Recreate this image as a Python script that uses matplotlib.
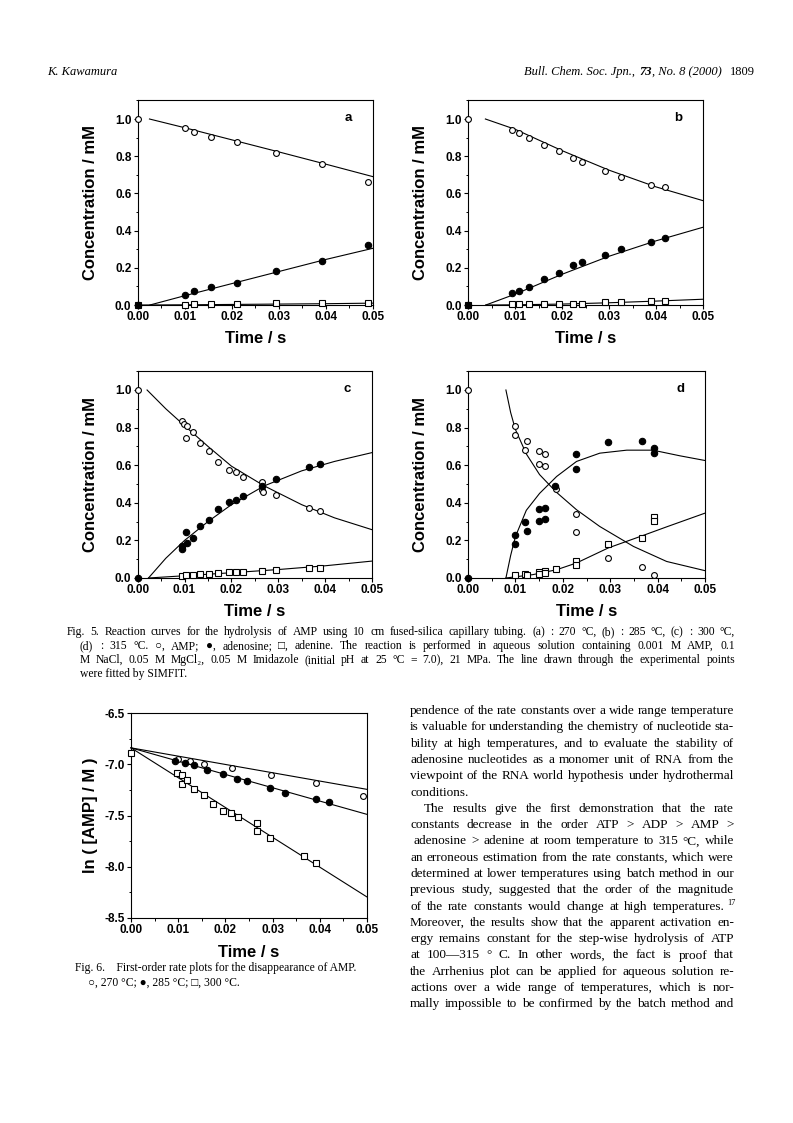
import matplotlib
matplotlib.use("Agg")
import matplotlib.pyplot as plt
from matplotlib.ticker import MultipleLocator, FormatStrFormatter

# ---------------------------------------------------------------- data
# Fig. 5a (270 C)
A_T = [0.0, 0.0100, 0.0120, 0.0155, 0.0211, 0.0294, 0.0391, 0.0489]
A_AMP = [1.0, 0.950, 0.928, 0.901, 0.878, 0.819, 0.756, 0.663]
A_ADO = [0.0, 0.054, 0.073, 0.097, 0.120, 0.181, 0.238, 0.323]
A_ADE = [0.0, 0.0, 0.005, 0.004, 0.004, 0.009, 0.009, 0.013]
A_FIT_AMP_T = [0.0025, 0.01, 0.02, 0.03, 0.04, 0.05]
A_FIT_AMP = [1.0, 0.953, 0.888, 0.823, 0.757, 0.690]
A_FIT_ADO_T = [0.0026, 0.01, 0.02, 0.03, 0.04, 0.05]
A_FIT_ADO = [0.0, 0.050, 0.115, 0.180, 0.245, 0.305]
A_FIT_ADE_T = [0.0, 0.01, 0.02, 0.03, 0.04, 0.05]
A_FIT_ADE = [0.0, 0.001, 0.003, 0.005, 0.007, 0.010]

# Fig. 5b (285 C)
B_T = [0.0, 0.0093, 0.0109, 0.0130, 0.0161, 0.0194, 0.0223, 0.0243, 0.0292, 0.0326, 0.0389, 0.0419]
B_AMP = [1.0, 0.941, 0.923, 0.896, 0.860, 0.828, 0.789, 0.771, 0.722, 0.686, 0.647, 0.633]
B_ADO = [0.0, 0.063, 0.077, 0.099, 0.142, 0.174, 0.215, 0.229, 0.271, 0.299, 0.341, 0.358]
B_ADE = [0.0, 0.004, 0.004, 0.004, 0.005, 0.007, 0.005, 0.007, 0.016, 0.016, 0.020, 0.020]
B_FIT_AMP_T = [0.0037, 0.01, 0.02, 0.03, 0.04, 0.05]
B_FIT_AMP = [1.0, 0.945, 0.830, 0.725, 0.635, 0.561]
B_FIT_ADO_T = [0.0038, 0.01, 0.02, 0.03, 0.04, 0.05]
B_FIT_ADO = [0.0, 0.058, 0.165, 0.262, 0.345, 0.418]
B_FIT_ADE_T = [0.0038, 0.01, 0.02, 0.03, 0.04, 0.05]
B_FIT_ADE = [0.0, 0.001, 0.005, 0.012, 0.021, 0.031]

# Fig. 5c (300 C)
C_AMP_T = [0.0, 0.0094, 0.0099, 0.0104, 0.0106, 0.0117, 0.0133, 0.0153, 0.0172, 0.0195,
           0.0210, 0.0225, 0.0266, 0.0266, 0.0268, 0.0295, 0.0366, 0.0390]
C_AMP = [1.0, 0.837, 0.818, 0.747, 0.809, 0.779, 0.717, 0.676, 0.619, 0.575,
         0.563, 0.536, 0.513, 0.469, 0.457, 0.442, 0.372, 0.354]
C_ADO_T = [0.0, 0.0094, 0.0094, 0.0104, 0.0106, 0.0119, 0.0133, 0.0153, 0.0172, 0.0195,
           0.0210, 0.0225, 0.0266, 0.0295, 0.0366, 0.0390]
C_ADO = [0.0, 0.170, 0.155, 0.244, 0.186, 0.212, 0.274, 0.310, 0.366, 0.404,
         0.416, 0.434, 0.492, 0.527, 0.588, 0.605]
C_ADE_T = [0.0094, 0.0104, 0.0119, 0.0133, 0.0153, 0.0172, 0.0195, 0.0210, 0.0225,
           0.0266, 0.0295, 0.0366, 0.0390]
C_ADE = [0.012, 0.014, 0.018, 0.019, 0.023, 0.027, 0.030, 0.032, 0.034,
         0.039, 0.042, 0.051, 0.055]
C_FIT_AMP_T = [0.002, 0.006, 0.010, 0.015, 0.020, 0.027, 0.035, 0.042, 0.050]
C_FIT_AMP = [1.0, 0.90, 0.81, 0.70, 0.595, 0.49, 0.39, 0.32, 0.257]
C_FIT_ADO_T = [0.0023, 0.006, 0.010, 0.015, 0.020, 0.027, 0.035, 0.042, 0.050]
C_FIT_ADO = [0.0, 0.105, 0.200, 0.300, 0.390, 0.490, 0.570, 0.620, 0.667]
C_FIT_ADE_T = [0.0023, 0.01, 0.02, 0.03, 0.04, 0.05]
C_FIT_ADE = [0.0, 0.012, 0.028, 0.045, 0.065, 0.090]

# Fig. 5d (315 C)
D_AMP_T = [0.0, 0.0100, 0.0100, 0.0120, 0.0125, 0.0149, 0.0149, 0.0163, 0.0163, 0.0185,
           0.0227, 0.0227, 0.0296, 0.0368, 0.0393]
D_AMP = [1.0, 0.809, 0.758, 0.681, 0.731, 0.676, 0.605, 0.658, 0.598, 0.473,
         0.342, 0.244, 0.106, 0.057, 0.018]
D_ADO_T = [0.0, 0.0100, 0.0100, 0.0120, 0.0125, 0.0149, 0.0149, 0.0163, 0.0163, 0.0183,
           0.0227, 0.0227, 0.0296, 0.0368, 0.0393, 0.0393]
D_ADO = [0.0, 0.227, 0.182, 0.297, 0.251, 0.366, 0.301, 0.375, 0.315, 0.490,
         0.658, 0.581, 0.722, 0.729, 0.690, 0.667]
D_ADE_T = [0.0100, 0.0120, 0.0125, 0.0149, 0.0149, 0.0163, 0.0163, 0.0185, 0.0227,
           0.0227, 0.0296, 0.0368, 0.0393, 0.0393]
D_ADE = [0.014, 0.021, 0.014, 0.030, 0.020, 0.037, 0.027, 0.048, 0.092,
         0.071, 0.180, 0.212, 0.324, 0.304]
D_FIT_AMP_T = [0.0080, 0.0090, 0.0100, 0.0123, 0.0151, 0.0187, 0.0229, 0.0278, 0.0349, 0.0419, 0.0500]
D_FIT_AMP = [1.0, 0.88, 0.79, 0.66, 0.55, 0.455, 0.363, 0.274, 0.168, 0.088, 0.039]
D_FIT_ADO_T = [0.0080, 0.0090, 0.0100, 0.0123, 0.0151, 0.0187, 0.0229, 0.0278, 0.0335, 0.0390, 0.0447, 0.0500]
D_FIT_ADO = [0.0, 0.12, 0.22, 0.36, 0.45, 0.54, 0.62, 0.664, 0.680, 0.680, 0.650, 0.625]
D_FIT_ADE_T = [0.0080, 0.0137, 0.0187, 0.0229, 0.0296, 0.0368, 0.0419, 0.0500]
D_FIT_ADE = [0.0, 0.018, 0.044, 0.080, 0.160, 0.225, 0.272, 0.345]

# Fig. 6 : ln([AMP]/M)
F6_270_T = [0.0100, 0.0125, 0.0154, 0.0213, 0.0296, 0.0391, 0.0492]
F6_270 = [-6.952, -6.970, -6.994, -7.033, -7.100, -7.180, -7.313]
F6_285_T = [0.0094, 0.0114, 0.0134, 0.0162, 0.0195, 0.0225, 0.0245, 0.0294, 0.0327, 0.0391, 0.0420]
F6_285 = [-6.968, -6.988, -7.010, -7.055, -7.095, -7.142, -7.166, -7.232, -7.284, -7.340, -7.368]
F6_300_T = [0.0, 0.0097, 0.0107, 0.0107, 0.0118, 0.0134, 0.0154, 0.0174, 0.0195, 0.0211,
            0.0226, 0.0267, 0.0267, 0.0295, 0.0366, 0.0391]
F6_300 = [-6.890, -7.082, -7.108, -7.196, -7.150, -7.245, -7.297, -7.390, -7.459, -7.476,
          -7.515, -7.573, -7.654, -7.716, -7.895, -7.960]
F6_FIT_T = [0.0, 0.05]
F6_FIT_270 = [-6.84, -7.245]
F6_FIT_285 = [-6.84, -7.489]
F6_FIT_300 = [-6.84, -8.295]

# ---------------------------------------------------------------- texts
HEADER_LEFT = "K. Kawamura"
CAPTION5 = [
    "Fig. 5.    Reaction curves for the hydrolysis of AMP using 10 cm fused-silica capillary tubing. (a) : 270 °C, (b) : 285 °C, (c) : 300 °C,",
    "(d) : 315 °C.  ○, AMP; ●, adenosine; □, adenine.  The reaction is performed in aqueous solution containing 0.001 M AMP, 0.1",
    "M NaCl, 0.05 M MgCl₂, 0.05 M Imidazole (initial pH at 25 °C  =  7.0), 21 MPa.  The line drawn through the experimental points",
    "were fitted by SIMFIT.",
]
CAPTION6 = [
    "Fig. 6.    First-order rate plots for the disappearance of AMP.",
    "○, 270 °C; ●, 285 °C; □, 300 °C.",
]
BODY = [
    "pendence of the rate constants over a wide range temperature",
    "is valuable for understanding the chemistry of nucleotide sta-",
    "bility at high temperatures, and to evaluate the stability of",
    "adenosine nucleotides as a monomer unit of RNA from the",
    "viewpoint of the RNA world hypothesis under hydrothermal",
    "conditions.",
    "The results give the first demonstration that the rate",
    "constants decrease in the order ATP > ADP > AMP >",
    "adenosine > adenine at room temperature to 315 °C, while",
    "an erroneous estimation from the rate constants, which were",
    "determined at lower temperatures using batch method in our",
    "previous study, suggested that the order of the magnitude",
    "of the rate constants would change at high temperatures.",
    "Moreover, the results show that the apparent activation en-",
    "ergy remains constant for the step-wise hydrolysis of ATP",
    "at 100—315 ° C.  In other words, the fact is proof that",
    "the Arrhenius plot can be applied for aqueous solution re-",
    "actions over a wide range of temperatures, which is nor-",
    "mally impossible to be confirmed by the batch method and",
]

# ---------------------------------------------------------------- style
W, H = 793, 1123
SERIF = ["Liberation Serif", "DejaVu Serif"]
plt.rcParams["font.family"] = ["Liberation Sans", "DejaVu Sans"]
plt.rcParams["font.weight"] = "bold"
plt.rcParams["axes.unicode_minus"] = False

fig = plt.figure(figsize=(W / 100, H / 100), dpi=100)
fig.patch.set_facecolor("white")
renderer = fig.canvas.get_renderer()


def add_axes_px(left, right, top, bottom):
    return fig.add_axes([left / W, 1 - bottom / H, (right - left) / W, (bottom - top) / H])


def style_axes(ax, xlabel, ylabel, ylab_x, xlab_y):
    for sp in ax.spines.values():
        sp.set_linewidth(0.8)
    ax.tick_params(which="major", direction="out", length=3, width=0.8, labelsize=8.5, pad=1.5)
    ax.tick_params(which="minor", direction="out", length=1.8, width=0.7)
    ax.set_xlim(0, 0.05)
    ax.xaxis.set_major_locator(MultipleLocator(0.01))
    ax.xaxis.set_minor_locator(MultipleLocator(0.005))
    ax.xaxis.set_major_formatter(FormatStrFormatter("%.2f"))
    ax.set_xlabel(xlabel, fontsize=12, fontweight="bold")
    ax.set_ylabel(ylabel, fontsize=12, fontweight="bold")
    ax.yaxis.set_label_coords(ylab_x, 0.5)
    ax.xaxis.set_label_coords(0.5, xlab_y)


def plot_series(ax, t, y, kind):
    if kind == "open":
        kw = dict(marker="o", ms=4.2, mfc="white", mec="black", mew=0.8)
    elif kind == "filled":
        kw = dict(marker="o", ms=4.6, mfc="black", mec="black", mew=0.8)
    else:
        kw = dict(marker="s", ms=4.0, mfc="white", mec="black", mew=0.8)
    ax.plot(t, y, linestyle="none", clip_on=False, zorder=3, **kw)


def plot_fit(ax, t, y):
    ax.plot(t, y, color="black", lw=0.8, clip_on=False, zorder=2)


def conc_panel(ax, letter, data, fits):
    for t, y, kind in data:
        plot_series(ax, t, y, kind)
    for t, y in fits:
        plot_fit(ax, t, y)
    ax.set_ylim(0, 1.1)
    ax.yaxis.set_major_locator(MultipleLocator(0.2))
    ax.yaxis.set_minor_locator(MultipleLocator(0.1))
    ax.yaxis.set_major_formatter(FormatStrFormatter("%.1f"))
    ax.text(0.895, 0.915, letter, transform=ax.transAxes, fontsize=9.5,
            fontweight="bold", ha="center", va="center")


# ---------------------------------------------------------------- Fig. 5
ax_a = add_axes_px(137.7, 373, 100.4, 305)
conc_panel(ax_a, "a",
           [(A_T, A_ADE, "square"), (A_T, A_AMP, "open"), (A_T, A_ADO, "filled")],
           [(A_FIT_AMP_T, A_FIT_AMP), (A_FIT_ADO_T, A_FIT_ADO), (A_FIT_ADE_T, A_FIT_ADE)])
style_axes(ax_a, "Time / s", "Concentration / mM", -0.17, -0.125)

ax_b = add_axes_px(468, 703, 100.4, 305)
conc_panel(ax_b, "b",
           [(B_T, B_ADE, "square"), (B_T, B_AMP, "open"), (B_T, B_ADO, "filled")],
           [(B_FIT_AMP_T, B_FIT_AMP), (B_FIT_ADO_T, B_FIT_ADO), (B_FIT_ADE_T, B_FIT_ADE)])
style_axes(ax_b, "Time / s", "Concentration / mM", -0.17, -0.125)

ax_c = add_axes_px(137.7, 372, 371.2, 578)
conc_panel(ax_c, "c",
           [(C_ADE_T, C_ADE, "square"), (C_AMP_T, C_AMP, "open"), (C_ADO_T, C_ADO, "filled")],
           [(C_FIT_AMP_T, C_FIT_AMP), (C_FIT_ADO_T, C_FIT_ADO), (C_FIT_ADE_T, C_FIT_ADE)])
style_axes(ax_c, "Time / s", "Concentration / mM", -0.17, -0.125)

ax_d = add_axes_px(468, 705, 371.2, 578)
conc_panel(ax_d, "d",
           [(D_ADE_T, D_ADE, "square"), (D_AMP_T, D_AMP, "open"), (D_ADO_T, D_ADO, "filled")],
           [(D_FIT_AMP_T, D_FIT_AMP), (D_FIT_ADO_T, D_FIT_ADO), (D_FIT_ADE_T, D_FIT_ADE)])
style_axes(ax_d, "Time / s", "Concentration / mM", -0.17, -0.125)

# ---------------------------------------------------------------- Fig. 6
ax6 = add_axes_px(131, 367, 713, 918)
for fit in (F6_FIT_270, F6_FIT_285, F6_FIT_300):
    plot_fit(ax6, F6_FIT_T, fit)
plot_series(ax6, F6_270_T, F6_270, "open")
plot_series(ax6, F6_285_T, F6_285, "filled")
plot_series(ax6, F6_300_T, F6_300, "square")
ax6.set_ylim(-8.5, -6.5)
ax6.yaxis.set_major_locator(MultipleLocator(0.5))
ax6.yaxis.set_minor_locator(MultipleLocator(0.25))
ax6.yaxis.set_major_formatter(FormatStrFormatter("%.1f"))
style_axes(ax6, "Time / s", "ln ( [AMP] / M )", -0.14, -0.13)


# ---------------------------------------------------------------- page text
def put(x, y, s, size, **kw):
    kw.setdefault("family", SERIF)
    kw.setdefault("fontweight", "normal")
    return fig.text(x / W, 1 - y / H, s, fontsize=size, va="baseline", ha="left", **kw)


def width_of(t):
    return t.get_window_extent(renderer).width


def justified(x0, x1, y, s, size):
    words = s.split()
    items = [put(x0, y, w_, size) for w_ in words]
    widths = [width_of(t) for t in items]
    gap = (x1 - x0 - sum(widths)) / max(len(words) - 1, 1)
    gap = max(gap, 0.15 * size * 100 / 72)
    cur = x0
    for t, w_ in zip(items, widths):
        t.set_x(cur / W)
        cur += w_ + gap
    return cur


# header
head_size = 9
put(47, 75, HEADER_LEFT, head_size, style="italic")
pg = put(755, 75, "1809", head_size)
pg.set_ha("right")
runs = [("Bull. Chem. Soc. Jpn., ", dict(style="italic")),
        ("73", dict(style="italic", fontweight="bold")),
        (", No. 8 (2000)", dict(style="italic"))]
objs = [put(0, 75, s, head_size, **kw) for s, kw in runs]
tot = sum(width_of(o) for o in objs) + 2.0
cur = 722 - tot
for o in objs:
    o.set_x(cur / W)
    cur += width_of(o) + (2.0 if o is objs[0] else 0.0)

# Fig. 5 caption
cap_size = 8.4
cap_y = [635, 649, 663, 677]
justified(67, 735, cap_y[0], CAPTION5[0], cap_size)
justified(80, 735, cap_y[1], CAPTION5[1], cap_size)
justified(80, 735, cap_y[2], CAPTION5[2], cap_size)
put(80, cap_y[3], CAPTION5[3], cap_size)

# Fig. 6 caption
put(75, 971, CAPTION6[0], cap_size)
put(88, 986, CAPTION6[1], cap_size)

# body text (right column)
body_size = 9.5
line_h = 16.3
for i, line in enumerate(BODY):
    y = 714 + i * line_h
    x0 = 410
    if i == 6:
        x0 = 424
    if i == 8:
        x0 = 414
    if i == 5:
        put(x0, y, line, body_size)
    elif i == 12:
        justified(x0, 725, y, line, body_size)
        put(727, y - 5, "17", 6)
    else:
        justified(x0, 734, y, line, body_size)

fig.savefig("out.png", dpi=100, facecolor="white")
